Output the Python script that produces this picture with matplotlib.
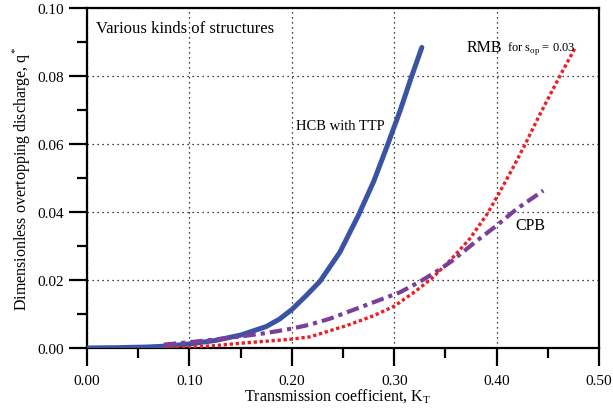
import matplotlib
matplotlib.use("Agg")
import matplotlib.pyplot as plt
from matplotlib.ticker import MultipleLocator, FormatStrFormatter

plt.rcParams['font.family'] = ['Liberation Serif', 'DejaVu Serif']

# HCB with TTP
hcb_k = [0.0, 0.03, 0.06, 0.08, 0.10, 0.125, 0.15, 0.175, 0.188, 0.20, 0.214, 0.2275,
         0.247, 0.265, 0.28, 0.293, 0.306, 0.316, 0.327]
hcb_q = [0.0, 0.0001, 0.0003, 0.0006, 0.0012, 0.0022, 0.0038, 0.0063, 0.0085, 0.0113, 0.0154, 0.0196,
         0.0282, 0.0390, 0.0490, 0.0593, 0.0700, 0.0790, 0.0884]

# RMB for s_op = 0.03
rmb_k = [0.075, 0.10, 0.125, 0.15, 0.175, 0.20, 0.218, 0.2536, 0.28, 0.30, 0.32, 0.338,
         0.356, 0.374, 0.391, 0.4033, 0.4163, 0.4277, 0.4424, 0.462, 0.4775]
rmb_q = [0.0, 0.0002, 0.0007, 0.0014, 0.002, 0.0026, 0.0033, 0.0066, 0.0095, 0.0123, 0.0165, 0.0208,
         0.0262, 0.0322, 0.0395, 0.0460, 0.0532, 0.0598, 0.0688, 0.0801, 0.0887]

# CPB
cpb_k = [0.075, 0.10, 0.125, 0.15, 0.175, 0.20, 0.218, 0.237, 0.2715, 0.3057, 0.325, 0.345,
         0.356, 0.3805, 0.40, 0.4196, 0.4456]
cpb_q = [0.001, 0.0017, 0.0025, 0.0034, 0.0044, 0.0057, 0.0069, 0.0086, 0.0125, 0.0164, 0.0195, 0.0232,
         0.0255, 0.0315, 0.036, 0.0409, 0.0463]

fig = plt.figure(figsize=(6.13, 4.14), dpi=100)
ax = fig.add_axes([87 / 613, 65 / 414, 512 / 613, 340 / 414])

ax.plot(hcb_k, hcb_q, color='#3a53a4', lw=3.6, solid_capstyle='round', solid_joinstyle='round', zorder=3)
ax.plot(rmb_k, rmb_q, color='#f01c24', lw=2.4, linestyle=(0, (1, 0.8)), zorder=3)
ax.plot(cpb_k, cpb_q, color='#7b3f98', lw=3.0, linestyle=(0, (3, 1.2, 1, 1.2)), zorder=3)

ax.set_xlim(0, 0.5)
ax.set_ylim(0, 0.1)
ax.xaxis.set_major_locator(MultipleLocator(0.1))
ax.xaxis.set_minor_locator(MultipleLocator(0.05))
ax.yaxis.set_major_locator(MultipleLocator(0.02))
ax.yaxis.set_minor_locator(MultipleLocator(0.01))
ax.xaxis.set_major_formatter(FormatStrFormatter('%.2f'))
ax.yaxis.set_major_formatter(FormatStrFormatter('%.2f'))

ax.grid(True, which='major', color='black', linestyle=(0, (1, 3)), lw=0.9)
ax.tick_params(which='major', direction='out', length=13, width=1.6, labelsize=11, colors='black')
ax.tick_params(axis='x', which='major', pad=6)
ax.tick_params(which='minor', direction='out', length=7, width=1.6)
for s in ax.spines.values():
    s.set_linewidth(1.6)

ax.set_xlabel('Transmission coefficient, K$_\\mathregular{T}$', fontsize=11.5)
ax.xaxis.set_label_coords(0.489, -0.113)
ax.set_ylabel('Dimensionless overtopping discharge, q$^\\mathregular{*}$', fontsize=11.5, labelpad=4)

ax.text(0.009, 0.0941, 'Various kinds of structures', fontsize=12, va='center')
ax.text(0.204, 0.0653, 'HCB with TTP', fontsize=10.5, va='center')
ax.text(0.371, 0.0885, 'RMB', fontsize=11.5, va='center')
ax.text(0.410, 0.0883, 'for s$_\\mathregular{op}$ = 0.03', fontsize=9, va='center')
ax.text(0.418, 0.0362, 'CPB', fontsize=11.5, va='center')

fig.savefig('out.png', dpi=100)
